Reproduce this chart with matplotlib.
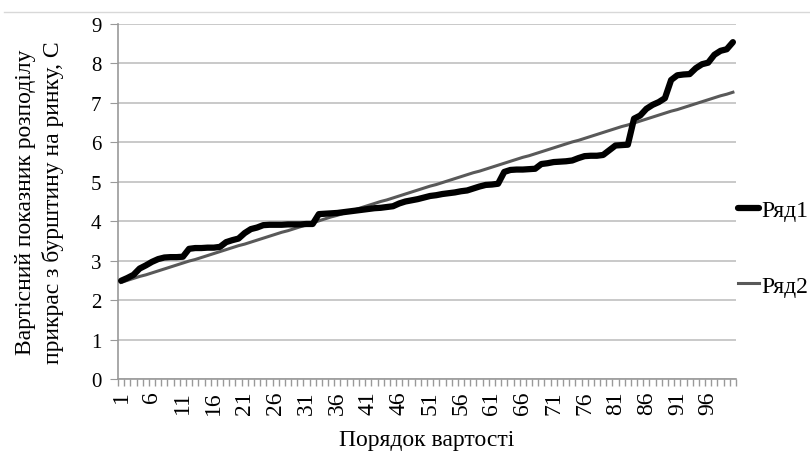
import matplotlib
matplotlib.use("Agg")
import matplotlib.pyplot as plt
from matplotlib.lines import Line2D
import numpy as np

plt.rcParams['font.family'] = ['Liberation Serif', 'DejaVu Serif']

series1_name = "Ряд1"
series2_name = "Ряд2"
x_label = "Порядок вартості"
y_label = "Вартісний показник розподілу\nприкрас з бурштину на ринку, С"

order = list(range(1, 101))
xtick_labels = [str(v) for v in range(1, 100, 5)]

ryad1 = [2.49, 2.56, 2.64, 2.80, 2.88, 2.97, 3.04, 3.08, 3.09, 3.09,
         3.10, 3.30, 3.32, 3.32, 3.33, 3.33, 3.35, 3.47, 3.52, 3.56,
         3.70, 3.80, 3.84, 3.90, 3.91, 3.91, 3.91, 3.92, 3.92, 3.92,
         3.93, 3.93, 4.18, 4.19, 4.20, 4.21, 4.23, 4.25, 4.27, 4.29,
         4.31, 4.33, 4.34, 4.36, 4.38, 4.45, 4.50, 4.53, 4.56, 4.60,
         4.64, 4.66, 4.69, 4.71, 4.73, 4.76, 4.78, 4.83, 4.88, 4.92,
         4.93, 4.95, 5.25, 5.30, 5.31, 5.31, 5.32, 5.33, 5.45, 5.47,
         5.50, 5.51, 5.52, 5.54, 5.60, 5.65, 5.66, 5.66, 5.68, 5.80,
         5.92, 5.93, 5.94, 6.60, 6.68, 6.85, 6.95, 7.02, 7.12, 7.58,
         7.70, 7.72, 7.73, 7.88, 7.98, 8.02, 8.22, 8.32, 8.36, 8.54]

ryad2 = [2.45, 2.50, 2.55, 2.60, 2.64, 2.69, 2.74, 2.79, 2.84, 2.89,
         2.94, 2.99, 3.03, 3.08, 3.13, 3.18, 3.23, 3.28, 3.33, 3.38,
         3.42, 3.47, 3.52, 3.57, 3.62, 3.67, 3.72, 3.76, 3.81, 3.86,
         3.91, 3.96, 4.01, 4.06, 4.11, 4.15, 4.20, 4.25, 4.30, 4.35,
         4.40, 4.45, 4.50, 4.54, 4.59, 4.64, 4.69, 4.74, 4.79, 4.84,
         4.89, 4.93, 4.98, 5.03, 5.08, 5.13, 5.18, 5.23, 5.27, 5.32,
         5.37, 5.42, 5.47, 5.52, 5.57, 5.62, 5.66, 5.71, 5.76, 5.81,
         5.86, 5.91, 5.96, 6.01, 6.05, 6.10, 6.15, 6.20, 6.25, 6.30,
         6.35, 6.40, 6.44, 6.49, 6.54, 6.59, 6.64, 6.69, 6.74, 6.79,
         6.83, 6.88, 6.93, 6.98, 7.03, 7.08, 7.13, 7.18, 7.22, 7.27]

fig = plt.figure(figsize=(8.1, 4.52), dpi=100)
ax = fig.add_axes([118/810, 1-380/452, (736-118)/810, (380-25)/452])

ax.plot(order, ryad1, color='black', lw=4.5, solid_joinstyle='round',
        solid_capstyle='round', label=series1_name, zorder=3)
ax.plot(order, ryad2, color='#595959', lw=2.2, label=series2_name, zorder=2)

ax.set_xlim(0.5, 100.5)
ax.set_ylim(0, 9)
ax.set_yticks(range(0, 10))
ax.yaxis.grid(True, color='#c0c0c0', lw=1.2)
ax.set_axisbelow(True)

ax.set_xticks(list(range(1, 100, 5)))
ax.set_xticklabels(xtick_labels, rotation=90, fontsize=17)
ax.set_xticks(np.arange(0.5, 101, 1.0), minor=True)
ax.tick_params(axis='x', which='major', length=0, pad=8)
ax.tick_params(axis='x', which='minor', length=5, color='#999999', width=1)
ax.tick_params(axis='y', length=6, color='#999999', labelsize=15, pad=6)

for s in ['top', 'right']:
    ax.spines[s].set_visible(False)
for s in ['left', 'bottom']:
    ax.spines[s].set_color('#999999')
    ax.spines[s].set_linewidth(1.2)

ax.set_xlabel(x_label, fontsize=17, labelpad=11)
ax.set_ylabel(y_label, fontsize=17, labelpad=19, linespacing=1.4)

fig.legend(loc='center left', bbox_to_anchor=(738/810, 1-249/452),
           frameon=False, fontsize=17, handlelength=0.9, handletextpad=0.1,
           labelspacing=2.3, borderpad=0, borderaxespad=0)

fig.add_artist(Line2D([0.005, 1.0], [1-13/452, 1-13/452], color='#d8d8d8', lw=1))

fig.savefig('out.png', dpi=100)
